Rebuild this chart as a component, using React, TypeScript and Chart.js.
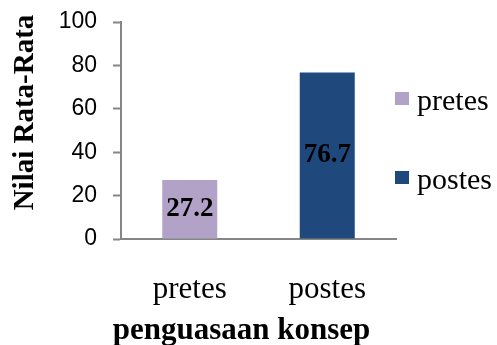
import React, { useEffect, useRef } from "react";
import { Chart, registerables } from "chart.js";

Chart.register(...registerables);

const categories = ["pretes", "postes"];
const values = [27.2, 76.7];
const barColors = ["#B3A2C7", "#1F497D"];
const yTicksMin = 0;
const yTicksMax = 100;
const yTickStep = 20;
const yTitle = "Nilai Rata-Rata";
const xTitle = "penguasaan konsep";

const SERIF = "'Liberation Serif', 'Times New Roman', serif";
const SANS = "'Liberation Sans', Arial, sans-serif";

const customDraw = {
  id: "customDraw",
  afterDatasetsDraw(chart: any) {
    const ctx = chart.ctx;
    const meta = chart.getDatasetMeta(0);
    ctx.save();
    ctx.font = `bold 27px ${SERIF}`;
    ctx.fillStyle = "#000";
    ctx.textAlign = "center";
    ctx.textBaseline = "middle";
    meta.data.forEach((el: any, i: number) => {
      const v = chart.data.datasets[0].data[i];
      ctx.fillText(Number(v).toFixed(1), el.x, (el.y + el.base) / 2);
    });
    ctx.restore();
  },
  afterDraw(chart: any) {
    const ctx = chart.ctx;
    const area = chart.chartArea;
    ctx.save();
    ctx.font = `bold 29px ${SERIF}`;
    ctx.fillStyle = "#000";
    ctx.textAlign = "center";
    ctx.textBaseline = "alphabetic";
    ctx.translate(33, 112.5);
    ctx.rotate(-Math.PI / 2);
    ctx.fillText(yTitle, 0, 0);
    ctx.restore();

    ctx.save();
    ctx.font = `bold 31px ${SERIF}`;
    ctx.fillStyle = "#000";
    ctx.textAlign = "center";
    ctx.textBaseline = "alphabetic";
    ctx.fillText(xTitle, (area.left + area.right) / 2 - 17, 339);
    ctx.restore();

    ctx.save();
    ctx.font = `30px ${SERIF}`;
    ctx.textAlign = "left";
    ctx.textBaseline = "alphabetic";
    categories.forEach((c, i) => {
      const cy = 98.5 + i * 79;
      ctx.fillStyle = barColors[i];
      ctx.fillRect(area.right - 1, cy - 6.5, 14, 13);
      ctx.fillStyle = "#000";
      ctx.fillText(c, area.right + 21, cy + 11.5);
    });
    ctx.restore();
  },
};

export default function App() {
  const ref = useRef<HTMLCanvasElement>(null);
  useEffect(() => {
    if (!ref.current) return;
    const chart = new Chart(ref.current, {
      type: "bar",
      data: {
        labels: categories,
        datasets: [
          {
            data: values,
            backgroundColor: barColors,
            borderWidth: 0,
            categoryPercentage: 1,
            barPercentage: 0.4,
          },
        ],
      },
      options: {
        animation: false,
        responsive: false,
        devicePixelRatio: 1,
        layout: { padding: { top: 22, right: 101, left: 0, bottom: 0 } },
        plugins: {
          legend: { display: false },
          tooltip: { enabled: false },
        },
        scales: {
          x: {
            grid: { display: false, drawTicks: false },
            border: { display: true, color: "#868686", width: 2 },
            ticks: {
              color: "#000",
              font: { family: SERIF, size: 31 },
              padding: 32,
            },
            afterFit(scale: any) {
              scale.height = 106;
              scale.paddingLeft = 0;
              scale.paddingRight = 0;
            },
          },
          y: {
            min: yTicksMin,
            max: yTicksMax,
            grid: {
              drawOnChartArea: false,
              drawTicks: true,
              tickLength: 8,
              tickColor: "#868686",
              tickWidth: 2,
            },
            border: { display: true, color: "#868686", width: 2 },
            ticks: {
              stepSize: yTickStep,
              color: "#000",
              font: { family: SANS, size: 23 },
              padding: 16,
            },
            afterFit(scale: any) {
              scale.width = 121;
              scale.paddingTop = 0;
              scale.paddingBottom = 0;
            },
          },
        },
      },
      plugins: [customDraw],
    });
    return () => chart.destroy();
  }, []);
  return (
    <div style={{ position: "fixed", left: 0, top: 0, width: 497, height: 345, background: "#fff" }}>
      <canvas ref={ref} width={497} height={345} style={{ width: 497, height: 345 }} />
    </div>
  );
}
